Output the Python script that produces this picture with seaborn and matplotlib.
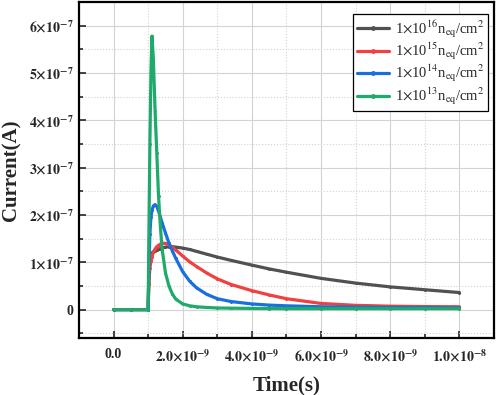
import matplotlib
matplotlib.use('Agg')
import matplotlib.pyplot as plt
from matplotlib.ticker import MultipleLocator
import seaborn as sns
import pandas as pd

# time in ns, current in 1e-7 A
time_ns = [0.0, 0.5, 0.99, 1.0, 1.02, 1.05, 1.08, 1.11, 1.15, 1.2, 1.25, 1.3, 1.35, 1.4,
           1.5, 1.6, 1.7, 1.8, 2.0, 2.2, 2.4, 2.7, 3.0, 3.4, 4.0, 4.5, 5.0, 6.0, 7.0,
           8.0, 9.0, 10.0]
cur_1e16 = [0, 0, 0, 0, 0.7, 1.1, 1.17, 1.2, 1.22, 1.24, 1.26, 1.27, 1.29, 1.3,
            1.32, 1.33, 1.33, 1.32, 1.3, 1.27, 1.23, 1.17, 1.11, 1.04, 0.94, 0.86,
            0.79, 0.66, 0.56, 0.48, 0.42, 0.36]
cur_1e15 = [0, 0, 0, 0, 0.55, 0.88, 1.02, 1.12, 1.21, 1.28, 1.33, 1.36, 1.38, 1.4,
            1.4, 1.37, 1.32, 1.26, 1.13, 1.01, 0.91, 0.77, 0.65, 0.53, 0.4, 0.31,
            0.23, 0.13, 0.09, 0.072, 0.064, 0.06]
cur_1e14 = [0, 0, 0, 0, 0.8, 1.6, 1.95, 2.1, 2.19, 2.22, 2.18, 2.08, 1.96, 1.84,
            1.62, 1.41, 1.24, 1.08, 0.8, 0.6, 0.46, 0.32, 0.23, 0.17, 0.12, 0.095,
            0.08, 0.06, 0.05, 0.045, 0.04, 0.035]
cur_1e13 = [0, 0, 0, 0, 1.5, 3.5, 5.0, 5.78, 5.3, 4.2, 3.3, 2.4, 1.8, 1.3,
            0.78, 0.5, 0.33, 0.22, 0.12, 0.08, 0.06, 0.045, 0.035, 0.03, 0.025, 0.022,
            0.02, 0.02, 0.02, 0.02, 0.02, 0.02]

labels = [r'1$\times$10$^{16}$n$_{\mathrm{eq}}$/cm$^{2}$',
          r'1$\times$10$^{15}$n$_{\mathrm{eq}}$/cm$^{2}$',
          r'1$\times$10$^{14}$n$_{\mathrm{eq}}$/cm$^{2}$',
          r'1$\times$10$^{13}$n$_{\mathrm{eq}}$/cm$^{2}$']
colors = ['#515151', '#F14040', '#1A6FDF', '#1EAA6A']

x_ticks = [0, 2e-9, 4e-9, 6e-9, 8e-9, 1e-8]
x_ticklabels = ['0.0', r'$\mathbf{2.0{\times}10^{-9}}$', r'$\mathbf{4.0{\times}10^{-9}}$',
                r'$\mathbf{6.0{\times}10^{-9}}$', r'$\mathbf{8.0{\times}10^{-9}}$',
                r'$\mathbf{1.0{\times}10^{-8}}$']
y_ticks = [0, 1e-7, 2e-7, 3e-7, 4e-7, 5e-7, 6e-7]
y_ticklabels = ['0'] + [r'$\mathbf{%d{\times}10^{-7}}$' % i for i in range(1, 7)]

rows = []
for lab, vals in zip(labels, [cur_1e16, cur_1e15, cur_1e14, cur_1e13]):
    for t, v in zip(time_ns, vals):
        rows.append({'t': t * 1e-9, 'I': v * 1e-7, 'series': lab})
df = pd.DataFrame(rows)

sns.set_style('white')
plt.rcParams['font.family'] = ['Liberation Serif', 'DejaVu Serif']
plt.rcParams['mathtext.fontset'] = 'stix'

fig = plt.figure(figsize=(4.98, 3.95), dpi=100)
ax = fig.add_axes([0.1586, 0.1443, 0.992 - 0.1586, 0.995 - 0.1443])

sns.lineplot(data=df, x='t', y='I', hue='series', hue_order=labels, palette=colors,
             sort=False, linewidth=2.3, marker='o', markersize=2.2, markeredgewidth=0,
             ax=ax)

ax.set_xlim(-1e-9, 1.1e-8)
ax.set_ylim(-0.6e-7, 6.5e-7)
ax.set_xticks(x_ticks)
ax.set_xticklabels(x_ticklabels)
ax.set_yticks(y_ticks)
ax.set_yticklabels(y_ticklabels)
ax.xaxis.set_minor_locator(MultipleLocator(1e-9))
ax.yaxis.set_minor_locator(MultipleLocator(0.5e-7))
for lab in ax.get_xticklabels() + ax.get_yticklabels():
    lab.set_fontweight('bold')
ax.tick_params(which='both', direction='in', labelsize=10, width=1.2,
               top=False, right=False, bottom=True, left=True)
ax.tick_params(which='major', length=5)
ax.tick_params(axis='x', which='major', pad=7)
ax.tick_params(axis='y', which='major', pad=4)
ax.tick_params(which='minor', length=3)
ax.grid(which='major', color='#d3d3d3', linewidth=0.8, linestyle='-')
ax.grid(which='minor', color='#d3d3d3', linewidth=0.8, linestyle=':')
ax.set_axisbelow(True)
for sp in ax.spines.values():
    sp.set_linewidth(1.6)
    sp.set_color('black')

ax.set_xlabel('Time(s)', fontsize=15, fontweight='bold', labelpad=8)
ax.set_ylabel('Current(A)', fontsize=15, fontweight='bold', labelpad=5)

handles, labs = ax.get_legend_handles_labels()
for h in handles:
    h.set_markersize(3.5)
leg = ax.legend(handles, labs, loc='upper right', bbox_to_anchor=(0.985, 0.963),
                borderaxespad=0, fontsize=10.5, frameon=True, fancybox=False,
                framealpha=1, edgecolor='black', handlelength=2.2,
                labelspacing=0.08, borderpad=0.25, handletextpad=0.4)
leg.get_frame().set_linewidth(0.9)

fig.savefig('out.png', dpi=100)
